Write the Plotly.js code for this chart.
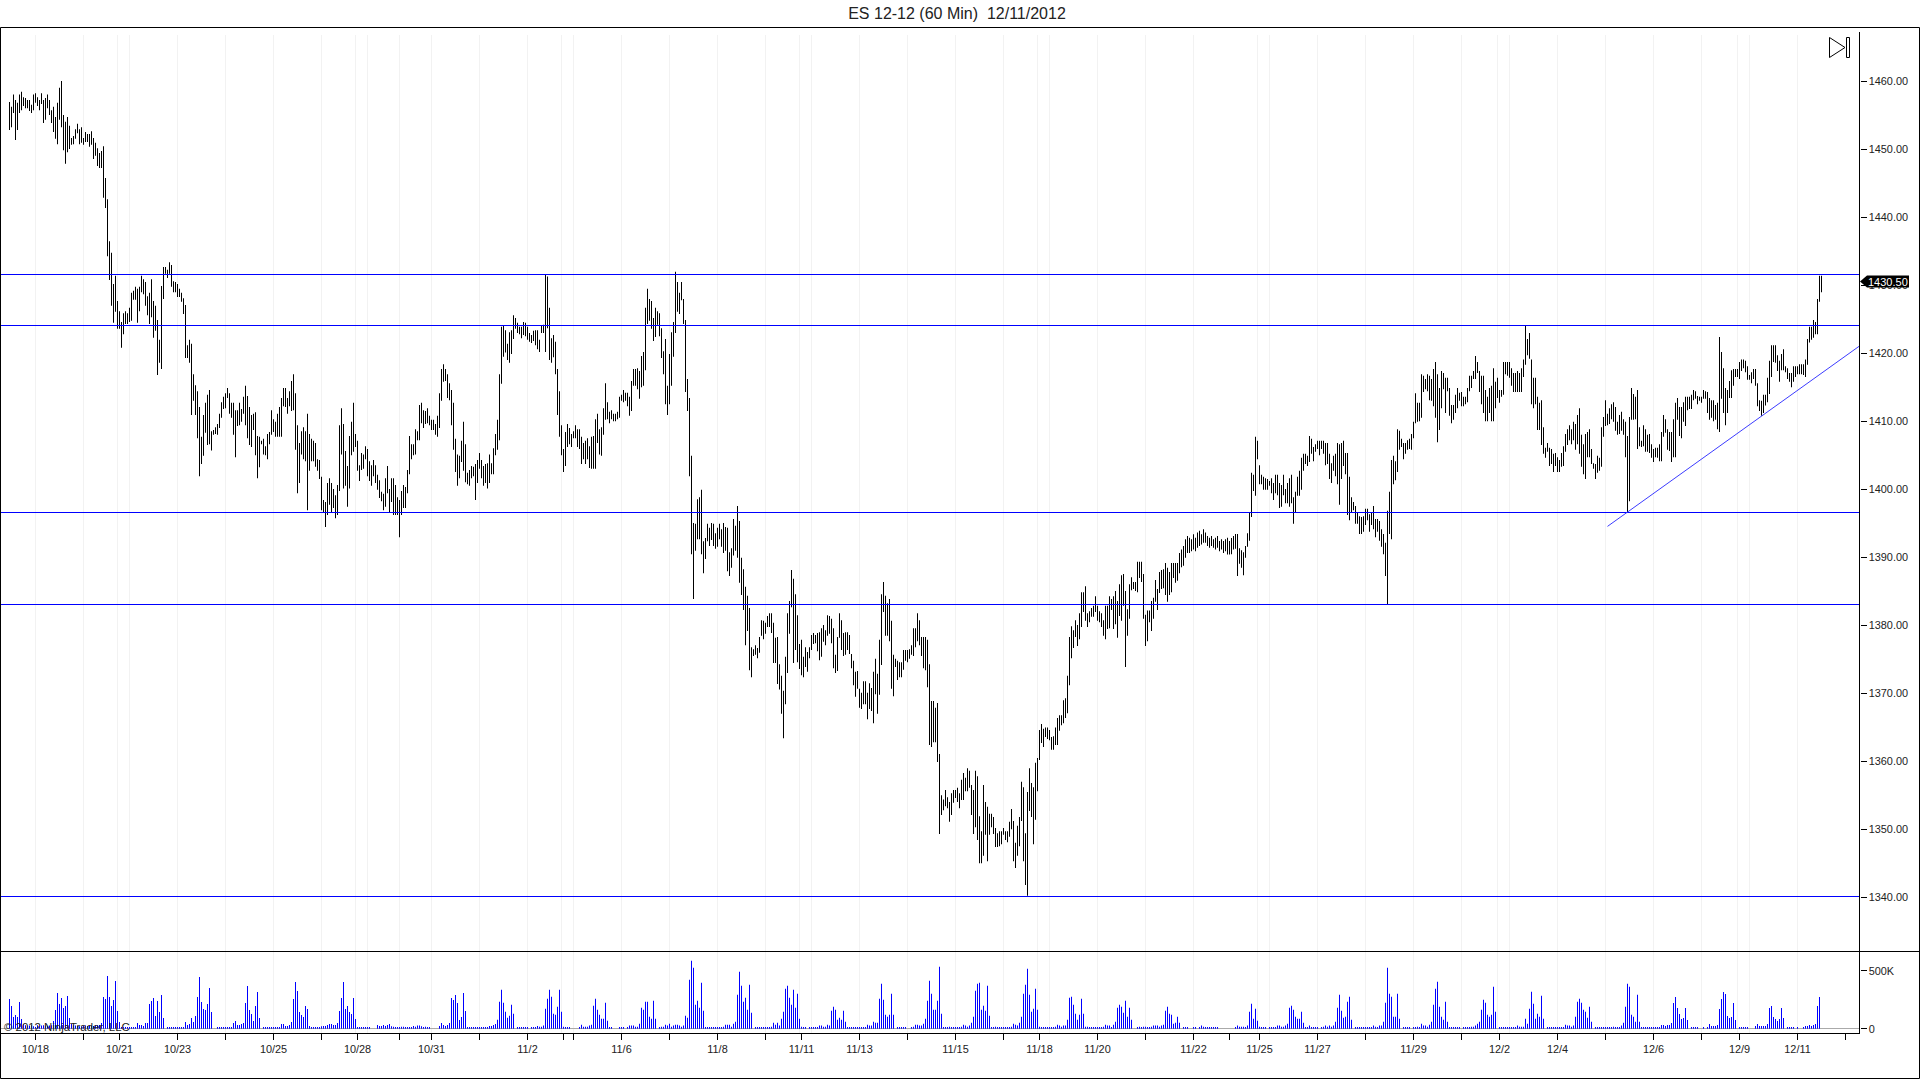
<!DOCTYPE html>
<html>
<head>
<meta charset="utf-8">
<script src="https://cdn.plot.ly/plotly-3.0.1.min.js"></script>
<style>html,body{margin:0;padding:0;background:#fff;overflow:hidden}</style>
</head>
<body>
<div id="chart" style="width:1920px;height:1079px"></div>
<script>
// High, low pairs of every 60 minute bar
var hl1 = [1456.9,1452.8,1456.2,1453.2,1458,1455.3,1457.2,1451.3,1456.8,1452.8,1458,1455.3,1458.4,1455.7,1457.6,1456.3,1457.5,1456,1457.2,1456,
1457.2,1455.6,1456.5,1455.3,1458,1455.7,1458.2,1456.8,1457.6,1456.3,1457.2,1455.7,1458.2,1456.6,1457.2,1453.8,1457.5,1454.3,1458,1456,
1457.2,1455,1455.7,1453.8,1456.2,1452.5,1454.7,1451.5,1456.8,1450.7,1459,1454.3,1460,1453.2,1455,1449.8,1454,1447.8,1454.7,1449.5,
1453.4,1450,1451.6,1450.6,1451.9,1450.7,1452.9,1451.5,1453.7,1452.3,1452.9,1450.7,1453.2,1450.9,1451.6,1450.6,1452.5,1451,1452.2,1451,
1452.2,1450.3,1452.6,1450.6,1451.6,1448.5,1450.9,1449,1450.1,1447.5,1449.4,1447.2,1449.7,1447.2,1450.4,1442.8,1445.7,1441.3,1442.6,1434.2,
1436.4,1430.7,1434.7,1426.9,1430.1,1424.4,1431.3,1426,1427.6,1423.5,1426.1,1423.5,1424.5,1420.7,1425.8,1422.7,1426.1,1424.2,1425.8,1424.2,
1426.6,1424.5,1428.8,1424.7,1429.1,1427.8,1429.7,1427.8,1429.4,1424.4,1429.7,1426.1,1431.3,1428.9,1430.8,1428.6,1430.4,1426.9,1428.3,1425.5,
1428.8,1424.2,1430.8,1425.2,1427.6,1422.2,1426.9,1423.2,1424.8,1416.7,1421.9,1418.5,1429.8,1417.6,1432.6,1427.9,1432.6,1431.6,1432.2,1431,
1433.3,1431.6,1432.9,1429.7,1430.5,1428.9,1430.4,1428.9,1430.1,1428.2,1429.4,1428.2,1428.8,1427.5,1428,1425.7,1427,1419.2,1421.1,1419.2,
1421.9,1418.5,1421.3,1410.8,1416.8,1412.9,1415.2,1410.8,1414.3,1407.4,1412,1401.8,1407.6,1403.6,1410.8,1404.8,1412.6,1408.2,1413.8,1406.4,
1414.5,1406.5,1408.4,1405.6,1408.6,1407.9,1409,1408,1409.5,1407.9,1411,1408.9,1412.7,1410.4,1413.5,1411.7,1414,1411.8,1414.8,1413.3,
1414,1411,1412.6,1410.4,1412.6,1407.9,1411.5,1404.6,1411.5,1409.2,1412.6,1409.3,1411.7,1409.8,1413.5,1411,1415.1,1409.3,1413.6,1407.4,
1412,1406.4,1410.8,1406.1,1411,1408.6,1411.2,1404.9,1407.7,1401.5,1407.6,1403.1,1407,1406.5,1407.3,1405,1406.2,1404.9,1408,1404.3,
1408.3,1406.5,1411.5,1407.9,1410.2,1408.3,1409.8,1407.6,1411,1407.6,1412,1407.6,1413.3,1407.6,1414.8,1412.1,1414.8,1412,1413.3,1411,
1414.3,1412.1,1415.8,1411.4,1416.8,1411.5,1414,1405.7,1409.3,1399.3,1406.7,1400.8,1408.4,1405,1409,1404.3,1408.4,1404,1411,1396.8];
var hl2 = [1408,1402.6,1407.3,1404,1407,1404,1406.7,1403.2,1404.3,1402.6,1404.2,1401.4,1401.7,1396.8,1398.3,1396.5,1398,1394.3,1400.8,1396.1,
1401.5,1397.6,1400.8,1396.5,1399.9,1397.1,1399,1395.6,1400.5,1396.1,1409.3,1399.6,1411.8,1405,1409.5,1400,1405.5,1400.4,1403.3,1397.3,
1407.7,1400,1409.8,1404.9,1412.6,1405.4,1408,1406.1,1407,1402.6,1403.4,1401.1,1405.2,1402.7,1405,1402.9,1406.2,1404.3,1405.8,1401.8,
1404,1401.1,1403.4,1400.4,1404.2,1401.8,1403.4,1400.8,1402,1399.8,1401.2,1398.6,1399.5,1398.1,1399.2,1396.8,1401.5,1397.3,1403.3,1399.3,
1399.9,1396.5,1401.5,1398,1401.5,1396.1,1400.5,1396.1,1398.7,1396.1,1398.3,1392.8,1399.6,1396.1,1400.5,1397.1,1400.2,1397.1,1402.7,1399.3,
1407.7,1402.1,1406.5,1404.3,1406.5,1404.9,1408.7,1405,1408.4,1407.1,1412.3,1407.1,1412.6,1409.6,1411.5,1408.9,1411.4,1409.5,1411.8,1409.6,
1410.7,1409.3,1410.1,1408.6,1410.1,1408.6,1409.5,1407.9,1410.7,1407.6,1414,1408.9,1417.6,1412.9,1418.3,1415.7,1417.6,1415.8,1416.8,1413.3,
1415.5,1413,1414.5,1409.3,1412.6,1405.7,1407.3,1402.4,1405,1400.4,1404.8,1401.5,1407,1403.9,1409.8,1402.6,1406.5,1400.9,1402.3,1400.6,
1402.7,1400.4,1403.3,1401.5,1403.2,1401.8,1403.6,1398.3,1404.2,1400.8,1405.2,1402.9,1404.2,1401.5,1403.3,1400.4,1403.6,1400.8,1403.7,1400,
1405,1400.8,1403.7,1402.1,1405.9,1402.1,1408,1404.9,1410.1,1405.7,1416.8,1407.1,1423.8,1415.4,1423.9,1419.4,1423.3,1420,1421.3,1418.9,
1423,1418.5,1423.3,1419.8,1425.5,1422,1425.1,1423.5,1424.4,1422.9,1423.8,1422.7,1423.8,1422.1,1424.5,1422.6,1424.4,1422.4,1423.8,1421.9,
1422.9,1421.6,1422.6,1421.4,1423.2,1421.7,1423.3,1421.1,1423.3,1420.5,1421.9,1420.1,1423.9,1422.9,1424.1,1422.9,1431.5,1420.1,1431.2,1423.6,
1426.6,1418.9,1422.1,1418.5,1422.6,1419.3,1421.6,1416.8,1417.6,1410.8,1414.3,1407.6,1409.3,1404.9,1405.8,1402.4,1408.3,1403.3,1409.5,1406.1,
1408.9,1406.5,1408,1406.1,1408.4,1407.4,1409.3,1407.4,1408.7,1406.1,1408.7,1405.8,1407.6,1403.6,1406.7,1404.3,1407,1403.6,1407.4,1404.3,
1406.2,1403,1407.6,1402.9,1407.7,1402.9,1410.2,1402.9,1411,1406.7,1408.7,1405,1409,1404.8,1411.8,1407.9,1415.5,1410.1,1412.7,1410.2,1411.3,1409.6];
var hl3 = [1411.5,1410.2,1411,1409.9,1411,1409.9,1411.3,1410.2,1413.5,1410.4,1413.8,1412.9,1414.5,1412.7,1414.1,1412.9,1414.1,1412.1,1413.5,1410.7,
1415.8,1411.4,1417.6,1415.1,1417.6,1415.1,1417.7,1414.6,1417.3,1413.2,1419.5,1414.9,1420.1,1415.1,1426.6,1417.4,1429.4,1424.2,1427.9,1424.7,
1427.6,1423.5,1425.1,1421.7,1426.6,1422.3,1426.1,1424.1,1425.8,1422.4,1423.6,1419.2,1420.2,1416.8,1422,1412.4,1415.1,1410.8,1419.8,1412.4,
1423,1415.1,1424.5,1419.4,1431.9,1422.9,1430.4,1426,1428.8,1425.7,1430.4,1427.7,1427.9,1424.2,1424.8,1414.2,1416.1,1411.4,1413.3,1401.8,
1404.8,1390.3,1394.9,1383.7,1394.8,1390.8,1398.4,1392.5,1398.7,1392.5,1399.8,1390.3,1392.2,1387.5,1392.7,1389.6,1394.8,1392.2,1394.2,1391.5,
1394.9,1392.4,1394.8,1391.5,1393.4,1391.1,1394.2,1391.4,1394.8,1392.5,1394,1391.4,1394.9,1390.5,1394.3,1390.8,1394.2,1387.8,1390.6,1387.1,
1391.2,1388.3,1395.5,1390.1,1394.5,1390.8,1397.4,1389.8,1395.2,1386.1,1389.8,1384.3,1388.1,1382.1,1385.5,1376.9,1384.2,1379,1382.4,1373.2,
1376.6,1372.2,1376.3,1375.3,1376.9,1375.5,1376.5,1375,1378.1,1375.8,1380.6,1378.3,1380.5,1377.8,1380.2,1378.6,1381.2,1379.6,1381.6,1379.6,
1381.6,1378.7,1380.2,1374.3,1378,1374.3,1378.1,1371.2,1374.1,1370.4,1372.4,1366.8,1370.2,1363.2,1375.2,1368.2,1381.6,1372.8,1383.4,1378.6,
1388,1382.5,1386.7,1374.3,1384.4,1376.2,1381.3,1374.4,1377.1,1373.4,1377.7,1372.5,1375.2,1372.2,1376.6,1373.7,1375.9,1373,1376.6,1375,
1378.4,1376.2,1378.7,1377.1,1378.4,1377.2,1378.7,1376,1378.8,1374.7,1379.4,1375.2,1379.9,1377.4,1379.1,1376.9,1381.3,1378.3,1381.2,1378.6,
1380.8,1377.2,1379.4,1373.5,1375.5,1372.8,1378.1,1373.1,1381.6,1378,1380.6,1376.2,1378.7,1375.3,1378.8,1375.5,1378.8,1376.2,1378.4,1375.6,
1375.6,1373.5,1374.6,1371,1373,1369.3,1373.1,1370.5,1370.5,1367.7,1369.9,1367.5,1371.6,1368.2,1371.6,1368.2,1369.9,1366,1371.3,1367.5,
1370.6,1367.2,1373,1365.4,1374.9,1369.7,1372.7,1366.8,1377.7,1369.6,1384.4,1374,1386.2,1381.8,1384.2,1378.3,1383.1,1378.3,1383.7,1377.5,
1380.5,1370.5,1375.5,1369.4,1374.9,1373.7,1374.6,1371.8,1374.4,1372.2,1374.4,1372.2,1376.2,1373.3,1376.2,1374.6,1376.2,1374.4,1376.3,1374.9,
1376.9,1375.5,1379.4,1375.3,1379.4,1376.6,1381.6,1377.5,1380.6,1376.9];
var hl4 = [1378.1,1375.3,1378.1,1373.5,1378.1,1373.2,1377.7,1370.7,1374.1,1362.2,1368.7,1361.9,1368.7,1362.6,1367.7,1362.6,1368.4,1359.7,1360.9,1349.1,
1354.8,1351.9,1354.2,1352.6,1355.6,1353.2,1354.5,1352.9,1353.8,1350.9,1355.1,1351.9,1355.6,1353.7,1355.6,1354.4,1355.9,1353.8,1355.1,1352.9,
1357.1,1354.1,1358.1,1354.1,1357.4,1355.4,1358.8,1355.4,1358.4,1355.9,1356.3,1351.9,1355.6,1349.1,1358.4,1350.1,1357.6,1348.2,1351.7,1344.8,
1349.5,1344.8,1356.3,1345.9,1353.8,1349,1353.1,1345.1,1352.1,1349,1352.1,1350.1,1351.6,1349.1,1350,1347.2,1349.2,1347.2,1349.5,1347.3,
1349.5,1347.6,1350,1349,1349.5,1348.2,1349.5,1347.9,1350.9,1348.7,1352.8,1349.8,1351,1345.1,1347.8,1344.1,1350.3,1345.9,1351.6,1347.3,
1356.8,1351,1356,1345.1,1349.2,1341.6,1355.3,1340,1358.8,1352.5,1356.6,1351.6,1356,1347.6,1359.6,1351.2,1360.3,1355.4,1364.4,1360,
1365.3,1362.5,1364.6,1361.9,1364.8,1363.4,1364.8,1363.1,1364.4,1362.9,1363.4,1361.5,1363.5,1361.5,1364.8,1362.2,1366.2,1362.2,1366.6,1364.3,
1366.6,1365.1,1368.8,1365.4,1369.1,1366.2,1372.4,1366.9,1378.1,1371,1379.7,1375,1379.1,1376.5,1380.6,1378.1,1379.9,1376.8,1381.6,1377.8,
1384.7,1379.6,1384.7,1381.8,1385.6,1380.5,1381.6,1379.6,1381.9,1380.3,1382.4,1381.1,1382.7,1381.1,1384.1,1381.8,1382.7,1380.5,1381.9,1380.3,
1381.6,1379.6,1380.6,1378.3,1382.7,1377.8,1382.7,1379.3,1384.1,1379.4,1383.7,1382.1,1384.1,1379.3,1384.9,1380,1383.4,1378,1385.9,1381.2,
1387.2,1380.5,1387.4,1382.7,1384.9,1373.7,1382.2,1378.3,1385.9,1380.8,1386.9,1385,1386.2,1385.2,1386.2,1384.9,1389.2,1384.7,1389.2,1386.8,
1389.2,1386.2,1387.4,1380.8,1381.4,1376.8,1382,1377.5,1382,1380.3,1383.4,1379,1383.9,1380.8,1386.5,1383.3,1385.2,1382.1,1387.7,1384.6,
1388,1385.2,1388.1,1385.3,1389,1384.3,1388.3,1383.3,1387.7,1384.3,1389,1384.7,1389,1386.8,1389,1386.1,1389,1386.4];
var hl5 = [1390.5,1387.5,1391,1388.4,1391.5,1388.6,1392.5,1389.8,1393,1390.5,1392.75,1390.5,1392.5,1390.75,1393.25,1391,1392.75,1390.75,1393.5,1391.25,
1393.75,1391.5,1393.25,1391.75,1394,1392,1393.5,1392,1393,1391.5,1392.75,1391.25,1393,1391.5,1392.5,1391.25,1392.75,1391,1393,1391.25,
1392.25,1390.75,1392.5,1391,1392.25,1390.5,1392.5,1390.75,1392.75,1390.25,1392.25,1390.25];
var hl6 = [1392.7,1390.3,1393,1391,1393.3,1391.1,1393.3,1387.1,1391.2,1388.9,1390.9,1388.3,1390.6,1387.2,1391.5,1389.8,1393.4,1391.4,1396.5,1392.3,
1402.3,1395.8,1402,1399.6,1407.6,1398.9,1407,1404.3,1403.4,1400.6,1402,1400.6,1401.7,1399.8,1401.5,1399.8,1401.4,1399.8,1401.1,1400.4,
1401.5,1399.3,1400.8,1398.3,1402,1399.3,1402,1399,1400.8,1397.1,1400.5,1397.3,1402,1399,1399.9,1397.8,1400.8,1397.8,1401.5,1397.3,
1402,1397.8,1398.7,1394.8,1399.5,1396.4,1401.7,1398.9,1402.6,1398.9,1404.5,1399.8,1405.1,1402.6,1405.1,1403.6,1404.8,1403.3,1407.7,1403.9,
1407.3,1405.1,1406.1,1404,1406.5,1405.4,1407,1405.8,1407,1404.9,1407,1405.8,1407,1405.1,1406.7,1403.4,1406.7,1403.6,1405.1,1401.4,
1403.7,1400.8,1404.8,1402.6,1405.1,1401.8,1406.7,1400.6,1406.5,1397.6,1406.7,1401.4,1407,1403.3,1405.2,1402.1,1405.2,1396.1,1401.7,1395.3,
1398.7,1396.5,1398,1396.8,1397.4,1394.8,1396.5,1394.8,1395.9,1393.3,1395.8,1393.3,1395.9,1393.6,1397,1394.6,1397,1395.3,1396.2,1393.6,
1396.5,1394.6,1397.4,1394,1395.5,1392.8,1395.5,1393.6,1395.2,1392.3,1394,1391.4,1393.3,1390.3,1392,1387.1,1396.7,1382.9,1399.5,1393.3,
1404.2,1392.5,1404.8,1400.6,1404,1401.2,1408.7,1402.4,1408.5,1405.7,1407.3,1406.1,1406.7,1404.3,1406.7,1405.1,1407.1,1405.7,1407.3,1405.8,
1408,1405.7,1409.8,1407.4,1414,1409.6,1412.6,1409.8,1412.6,1409.9,1416.8,1410.4,1416.6,1414.2,1416.1,1414.6,1416.8,1414.3,1416.6,1413,
1416.1,1412.9,1417.6,1412.1,1418.6,1410.4,1416.8,1406.8,1414.8,1408.6,1417.3,1411.8,1417,1414.6,1416.3,1411.1,1416.3,1414.3,1414.8,1410.7,
1412.3,1409.6,1412.3,1410.1,1413.8,1411.1,1414.8,1411.8,1414.1,1412.9,1414.2,1412.1,1413.5,1412.1,1413.5,1412.4,1414.8,1412.7,1416.6,1414.3,
1416.6,1414.8,1417.3,1416.1,1419.5,1416.1,1418.6,1417,1417.3,1414.2,1416.6,1412.4,1416.6,1411.1,1414.5,1409.9,1413.5,1409.9,1414.8,1411.1,
1415.1,1409.9,1417.7,1409.9,1415.7,1411.8,1416.3,1413.3,1414.5,1412.6,1414.5,1413.5,1418.6,1413.8,1418.6,1416.8,1418.6,1416.6,1418.6,1416.3,
1417.7,1415.1,1417,1414.2,1417,1414.2,1417.3,1414.2,1417,1414.2,1417.7,1414.2,1419,1416.4,1424,1418.2,1422,1419.6,1422.9,1419.1,
1419,1412.4,1416.3,1411.8,1416.3,1412.4,1413.5,1408.6,1412.6,1408.6,1413,1406.4,1409,1405.1,1406,1404.5,1406.7,1405.4,1406,1403.3];
var hl7 = [1405.8,1403.6,1405.1,1402.4,1405.2,1403.3,1404.6,1402.4,1404.2,1402.4,1405.2,1403.2,1406.2,1403.3,1408,1405.4,1408.7,1406.4,1409.3,1407.1,
1408.7,1406.5,1409.8,1407.1,1409.5,1405.7,1410.8,1406.5,1411.8,1405.1,1407.9,1403.2,1406.5,1402.1,1408,1401.4,1408.3,1404.6,1408.7,1404.6,
1405.8,1403.6,1403.7,1402.9,1403.6,1401.4,1404.8,1402.3,1404.5,1402.6,1409,1403.2,1410.5,1407.6,1413,1409.2,1411,1409.3,1411.8,1409.5,
1412.4,1410.2,1412.7,1409.8,1412,1408.5,1409.8,1407.9,1410.8,1408,1411.3,1408.5,1410.2,1407.9,1409.8,1404.6,1407.7,1396.5,1410.5,1398.1,
1414.8,1410.1,1413.9,1410.1,1413.5,1410.2,1414.5,1405.8,1409,1406.2,1407,1406.1,1409.3,1406.2,1408.7,1405.4,1407.9,1405.4,1408,1405.2,
1406.5,1404.5,1405.8,1403.9,1406,1404.6,1406,1404.5,1406.5,1404,1408.3,1404,1410.8,1407.6,1410.2,1408.2,1408.7,1405.7,1408.3,1405.5,
1408.3,1403.9,1410.2,1404.6,1412.6,1404.6,1413.3,1410.1,1412,1407.7,1412,1407.4,1412.7,1409.8,1413.5,1409.2,1413.5,1411.5,1413.5,1411.7,
1413.8,1411.7,1414.5,1413,1414.3,1413.2,1413.6,1412.4,1413.5,1412.9,1413.5,1412.6,1414.5,1413.2,1414.3,1413.2,1414.2,1411.1,1413.3,1410.1,
1413,1410.4,1413,1409.9,1412.3,1410.1,1412.6,1408.7,1422.3,1408.3,1420.1,1413.2,1417.7,1411.1,1414.8,1409.3,1414.5,1411.1,1415.8,1413.3,
1417.4,1413.3,1417.6,1415.1,1417.6,1416.4,1417.6,1416.4,1418.6,1416.1,1419,1417.3,1419,1417.7,1418.8,1417.1,1418,1416,1416.7,1416,
1417.1,1415.5,1417.6,1416.1,1417.6,1415.1,1415.5,1412.1,1413,1411.4,1412.9,1410.7,1413.8,1411.1,1413.8,1412.2,1416.3,1412.7,1418.8,1413.9,
1421.1,1416.4,1421.1,1418.6,1421.1,1418.5,1419.6,1417.3,1418.8,1415.7,1419.8,1417.4,1420.5,1417.4,1418,1417.1,1417.7,1416.1,1417,1415.7,
1417,1414.9,1418,1415.7,1418,1416.4,1418,1416.8,1418.3,1416.8,1418.3,1416.8,1418.3,1416.7,1419,1416.4,1422,1418.2,1423.8,1421.5,
1423.8,1421.9,1424.8,1422.2,1424.5,1422.7,1427.9,1422.7,1431.3,1427.5,1431.3,1428.9];

// Volume per bar, in thousands of contracts
var vol1 = [256,195,100,118,100,230,83,40,30,27,27,30,20,14,30,23,27,30,27,23,27,30,66,161,307,213,264,178,195,282,92,40,30,27,23,20,20,23,27,23,27,27,23,30,32,32,
49,273,256,454,273,195,247,411,152,57,14,14,14,14,14,14,14,14,49,32,32,23,49,49,213,239,264,109,239,144,290,92,0,14,14,14,14,14,14,14,14,14,57,32,40,92,57,109,273,445,230,170,161,213,351,144,0,0,
14,14,14,14,14,14,14,14,49,66,32,32,40,49,221,368,161,126,66,195,316,92,0,14,14,14,14,14,14,14,14,14,40,40,23,23,32,57,256,402,325,144,118,100,195,170,23,14,14,14,14,14,20,23,23,32,40,40,32,32,49,
152,264,402,170,195,144,126,264,83,14,14,14,14,14,14,14,0,0,0,32,23,23,32,23,32,40,20,17,14,14,14,17,17,14,14,14,14,23,17,27,27,20,14,17,14,14,0,0,0,0,23,49,32,23,32,49,264,247,290,221,75,100,307,152,14,14,14,14,14,14,14];
var vol2 = [14,14,14,14,23,23,32,40,78,233,336,224,147,95,112,207,129,0,14,14,14,14,14,14,0,14,14,14,23,17,17,27,172,259,336,276,129,121,190,336,147,17,14,14,14,0,0,0,0,14,34,17,17,17,27,34,198,259,164,121,86,86,224,69,14,14,0,0,0,14,14,14,0,14,27,27,27,17,17,43,181,164,233,233,103,86,241,86,0,14,17,17,34,27,43,17,27,34,34,27,17,27,112,95,422,586,526,207,241,181,397,155,
14,14,14,14,14,14,14,14,14,17,34,34,34,17,43,60,293,491,371,233,267,164,379,138,0,14,14,14,14,14,14,14,14,17,52,34,52,27,86,147,345,371,267,207,336,181,302,86,17,14,14,0,14,14,14,14,14,27,27,17,17,34,27,155,190,164,78,95,78,155,60,14,14,14,14,14,14,14,14,14,14,34,27,27,60,52,52,259,388,250,121,103,121,302,121,0,14,14,14,14,14,0,0,14,17,34,34,27,27,43,86,241,414,302,164,164,241,535,129,
14,14,14,17,14,14,14,14,14,17,34,27,17,27,52,103,327,388,397,164,198,155,371,112,14,14,17,14,14,14,14,14,14,14,17,43,34,27,52,103,302,379,517,293,147,172,345,164,17,14,14,14,14,14,14,14,17,34,27];
var vol3 = [17,27,27,78,267,276,207,129,78,121,259,129,17,17,14,14,14,14,14,14,14,17,34,27,27,14,34,60,181,207,190,138,241,103,181,78,0,0,14,17,14,17,17,14,14,17,27,27,27,17,27,34,155,190,129,121,43,52,103,52,0,14,14,14,0,0,14,14,0,14,27,17,14,14,14,14,14,14,14,0,0,0,0,0,0,0,0,14,27,17,17,17,14,27,147,216,86,172,69,17,14,14,14,0,14,14,14,14,27,27,17,17,27,43,181,198,164,103,86,86,147,52,14,14,27,14,14,14,14,0,14,17,27,17,27,17,27,60,181,293,155,95,103,233,276,78,0,
14,14,14,14,14,14,14,14,14,27,17,14,27,27,60,224,526,302,276,103,103,302,86,0,14,14,14,14,0,14,14,17,14,43,27,27,17,34,60,207,345,405,190,103,78,233,60,14,14,14,14,14,14,0,14,14,14,14,17,17,27,43,60,164,250,224,121,103,121,362,147,0,14,14,14,14,14,14,14,14,14,27,17,17,17,86,43,172,319,216,86,129,103,284,86,0,
14,14,14,14,14,14,14,14,14,34,27,27,17,27,103,233,259,224,164,147,95,190,60,0,14,14,14,14,14,14,14,14,14,17,14,14,14,27,52,190,388,362,121,103,60,293,60,14];
var vol4 = [14,14,14,14,14,14,14,14,14,32,32,23,32,32,49,221,273,178,126,83,92,178,75,0,14,14,14,14,0,0,14,0,14,40,23,23,23,32,170,256,316,299,109,92,100,221,75,0,14,14,14,14,14,0,0,0,23,40,23,23,23,23,40,178,195,100,83,66,83,178,92,0,14,14,14,14,0,14,0,0,14,23,23,32,23,32,40,195,273,0];

// Horizontal levels and the rising trend line
var levels = [1431.57, 1424.07, 1396.59, 1383.04, 1340.2];
var trendBars = [799, 925];
var trendPrices = [1394.55, 1421.06];
var lastPrice = 1430.5;

// Axes
var priceTicks = [1340,1350,1360,1370,1380,1390,1400,1410,1420,1430,1440,1450,1460];
var volumeTicks = [0, 500];
var volumeTickText = ['0', '500K'];
var gridBars = [13,37,54,60,84,108,132,156,173,179,195,211,235,259,276,282,306,330,354,378,395,401,425,449,473,497,514,520,544,568,592,624,630,654,678,702,726,744,750,774,798,822,846,864,870,894];
var dateTickBars = [13,37,55,84,108,132,156,174,195,211,235,259,277,282,306,330,354,378,396,425,449,473,497,515,544,568,592,610,625,654,678,702,726,745,774,798,822,846,865,894,918];
var dateTickText = ['10/18','','10/21','10/23','','10/25','','10/28','','10/31','','11/2','','','11/6','','11/8','','11/11','11/13','','11/15','','11/18','11/20','','11/22','','11/25','11/27','','11/29','','12/2','12/4','','12/6','','12/9','12/11',''];

// The bars were read on a scale of 6.79 px per point; the axis ticks run at 6.805.
var readScale = 6.79, axisScale = 6.805, scaleTop = 1460;
var calibrate = function (p) { return scaleTop - (scaleTop - p) * readScale / axisScale; };

var hl = hl1.concat(hl2, hl3, hl4, hl5, hl6, hl7);
var vols = vol1.concat(vol2, vol3, vol4);
var bars = [], lows = [], spans = [], volBars = [];
for (var i = 0; i < hl.length / 2; i++) {
  var hiP = calibrate(hl[2 * i]), loP = calibrate(hl[2 * i + 1]);
  bars.push(i); lows.push(loP); spans.push(hiP - loP);
}
for (var j = 0; j < vols.length; j++) volBars.push(j);

var W = 1920, H = 1079;
var px = function (v) { return v / W; };
var py = function (v) { return 1 - v / H; };
var axisRight = 1859.5;
var xRange = [-4.75, 925];
var font = 'Liberation Sans, Arial, sans-serif';
var tickFont = { family: font, size: 10.9, color: '#222' };

var traces = [{
  type: 'bar', x: bars, y: spans, base: lows, width: 0.5,
  marker: { color: '#000', line: { width: 0 } }, xaxis: 'x', yaxis: 'y'
}, {
  type: 'bar', x: volBars, y: vols, width: 0.5,
  marker: { color: '#0000ff', line: { width: 0 } }, xaxis: 'x2', yaxis: 'y2'
}];
levels.forEach(function (lv) {
  traces.push({
    type: 'scatter', mode: 'lines', x: xRange, y: [lv, lv],
    line: { color: '#0000ff', width: 1 }, xaxis: 'x', yaxis: 'y'
  });
});
traces.push({
  type: 'scatter', mode: 'lines', x: trendBars, y: trendPrices,
  line: { color: '#3c3cff', width: 1 }, xaxis: 'x', yaxis: 'y'
});

var frame = function (x0, y0, x1, y1) {
  return { type: 'line', xref: 'paper', yref: 'paper', x0: px(x0), y0: py(y0), x1: px(x1), y1: py(y1),
    line: { color: '#000', width: 1 }, layer: 'above' };
};
var shapes = gridBars.map(function (b) {
  return { type: 'line', xref: 'x', yref: 'paper', x0: b, x1: b, y0: py(35), y1: py(1033),
    line: { color: '#f2f2f2', width: 1 }, layer: 'below' };
});
shapes.push(frame(0.5, 27.5, 1919.5, 27.5), frame(0.5, 27.5, 0.5, 1078.5), frame(1919.5, 27.5, 1919.5, 1078.5),
  frame(0.5, 1078.5, 1919.5, 1078.5), frame(0.5, 951.5, 1919.5, 951.5), frame(axisRight, 32, axisRight, 1033.5));
var polyPath = function (pts, close) {
  return pts.map(function (p, k) { return (k ? 'L' : 'M') + px(p[0]) + ' ' + py(p[1]); }).join(' ') + (close ? ' Z' : '');
};
shapes.push({ type: 'path', xref: 'paper', yref: 'paper', layer: 'above', line: { color: '#000', width: 1 },
  path: polyPath([[1829.5, 37.5], [1845, 47.5], [1829.5, 57.5]], true) });
shapes.push({ type: 'path', xref: 'paper', yref: 'paper', layer: 'above', line: { color: '#000', width: 1 },
  path: polyPath([[1846.5, 37.5], [1849.5, 37.5], [1849.5, 57.5], [1846.5, 57.5]], true) });
shapes.push({ type: 'path', xref: 'paper', yref: 'paper', layer: 'above', line: { width: 0 }, fillcolor: '#000',
  path: polyPath([[1860, 281.5], [1867, 275.5], [1909, 275.5], [1909, 287.5], [1867, 287.5]], true) });

var layout = {
  width: W, height: H, autosize: false, showlegend: false, hovermode: false,
  margin: { l: 0, r: 0, t: 0, b: 0, pad: 0 },
  paper_bgcolor: '#fff', plot_bgcolor: 'rgba(0,0,0,0)', barmode: 'overlay',
  title: { text: 'ES 12-12 (60 Min)\u00a0\u00a012/11/2012', x: 957 / W, xanchor: 'center', y: py(13), yanchor: 'middle',
    font: { family: font, size: 16, color: '#222' } },
  xaxis: { domain: [0, axisRight / W], range: xRange, showgrid: false, zeroline: false, showticklabels: false, ticks: '', anchor: 'y', showline: false },
  xaxis2: { domain: [0, axisRight / W], range: xRange, showgrid: false, zeroline: false, anchor: 'y2', showline: true, linecolor: '#000', linewidth: 1,
    tickmode: 'array', tickvals: dateTickBars, ticktext: dateTickText, ticks: 'outside', ticklen: 6, tickcolor: '#000', tickwidth: 1, tickfont: tickFont, tickangle: 0 },
  yaxis: { domain: [py(951.5), py(35)], range: [scaleTop - (951.5 - 81) / axisScale, scaleTop + (81 - 35) / axisScale], side: 'right', anchor: 'x', showgrid: false, zeroline: false, showline: false,
    tickmode: 'array', tickvals: priceTicks, ticktext: priceTicks.map(function (p) { return p.toFixed(2); }), ticks: 'outside', ticklen: 6, tickcolor: '#000', tickwidth: 1, tickfont: tickFont },
  yaxis2: { domain: [py(1033), py(951.5)], range: [-37.3, 665.6], side: 'right', anchor: 'x2', showgrid: false, zeroline: true, zerolinecolor: '#aaa', zerolinewidth: 1, showline: false,
    tickmode: 'array', tickvals: volumeTicks, ticktext: volumeTickText, ticks: 'outside', ticklen: 6, tickcolor: '#000', tickwidth: 1, tickfont: tickFont },
  shapes: shapes,
  annotations: [{
    xref: 'paper', yref: 'paper', x: px(2), y: py(1027), xanchor: 'left', yanchor: 'middle', showarrow: false,
    text: '\u00a9 2012 NinjaTrader, LLC', font: { family: font, size: 11.4, color: '#222' }
  }, {
    xref: 'paper', yref: 'y', x: px(1888), y: lastPrice, xanchor: 'center', yanchor: 'middle', showarrow: false,
    text: lastPrice.toFixed(2), font: { family: font, size: 11, color: '#fff' }
  }]
};

Plotly.newPlot('chart', traces, layout, { staticPlot: true, displayModeBar: false, responsive: false }).then(function () {
  document.querySelectorAll('.scatterlayer .js-line').forEach(function (el, k) {
    if (k < levels.length) el.style.shapeRendering = 'crispEdges';
  });
});
</script>
</body>
</html>
